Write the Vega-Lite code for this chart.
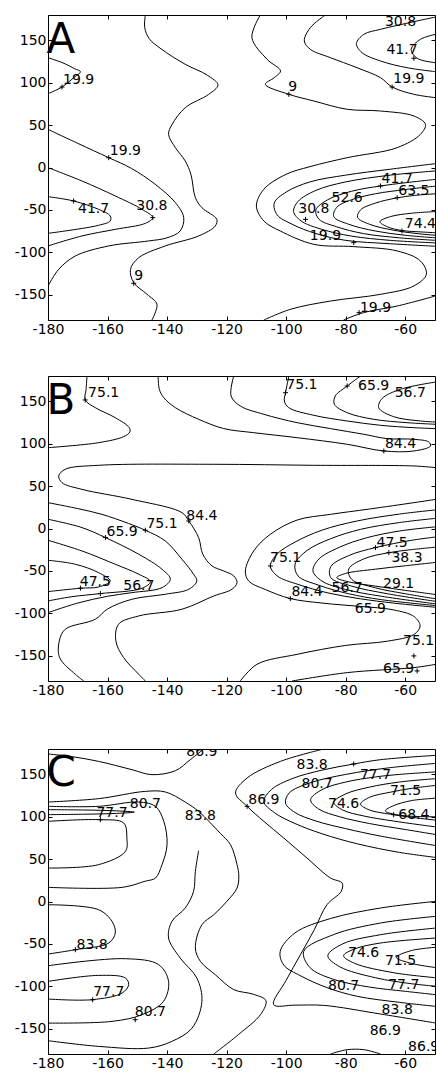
{
"$schema": "https://vega.github.io/schema/vega-lite/v6.json",
"padding": {"left": 13, "top": 14, "right": 0, "bottom": 0},
"background": "white",
"config": {
 "view": {"stroke": "black", "strokeWidth": 1},
 "axis": {"tickSize": -4, "tickColor": "black", "tickWidth": 1, "labelFont": "DejaVu Sans", "labelFontSize": 14, "labelColor": "black", "labelPadding": 6, "domain": false, "grid": false, "labelOverlap": false, "labelFlush": false}
},
"datasets": {
"lA": [
{"c":"a1","x":-180,"y":129.6},{"c":"a1","x":-175,"y":123.5},{"c":"a1","x":-171,"y":116.5},{"c":"a1","x":-169.1,"y":113.1},{"c":"a1","x":-171.5,"y":105.5},{"c":"a1","x":-175.3,"y":95},{"c":"a1","x":-180,"y":87.1},
{"c":"a2","x":-180,"y":45},{"c":"a2","x":-170,"y":28.5},{"c":"a2","x":-159.6,"y":11.6},{"c":"a2","x":-152,"y":-1},{"c":"a2","x":-144,"y":-19.8},{"c":"a2","x":-137.2,"y":-41.5},{"c":"a2","x":-134.4,"y":-59.2},{"c":"a2","x":-135.6,"y":-74.9},{"c":"a2","x":-140,"y":-83},{"c":"a2","x":-146.2,"y":-86.7},{"c":"a2","x":-159.6,"y":-92.6},{"c":"a2","x":-170.8,"y":-104.4},{"c":"a2","x":-176.4,"y":-120.2},{"c":"a2","x":-180,"y":-139.8},
{"c":"a3","x":-180,"y":-0.2},{"c":"a3","x":-168.6,"y":-15.9},{"c":"a3","x":-157.4,"y":-33.6},{"c":"a3","x":-148.4,"y":-49.4},{"c":"a3","x":-144.8,"y":-59.2},{"c":"a3","x":-147.3,"y":-65.9},{"c":"a3","x":-157.4,"y":-73},{"c":"a3","x":-168.6,"y":-80.8},{"c":"a3","x":-180,"y":-92.6},
{"c":"a4","x":-180,"y":-34.4},{"c":"a4","x":-171.4,"y":-39.5},{"c":"a4","x":-163,"y":-49.4},{"c":"a4","x":-159.1,"y":-57.2},{"c":"a4","x":-159.1,"y":-63.1},{"c":"a4","x":-163,"y":-68.2},{"c":"a4","x":-174.2,"y":-74.9},{"c":"a4","x":-180,"y":-77.7},
{"c":"a5","x":-147.3,"y":180},{"c":"a5","x":-147.5,"y":165},{"c":"a5","x":-146,"y":152},{"c":"a5","x":-142,"y":140},{"c":"a5","x":-133.9,"y":121.8},{"c":"a5","x":-126.5,"y":109},{"c":"a5","x":-122.9,"y":97.4},{"c":"a5","x":-126,"y":86.4},{"c":"a5","x":-133.9,"y":70.6},{"c":"a5","x":-138.3,"y":51},{"c":"a5","x":-139.5,"y":39.1},{"c":"a5","x":-137.2,"y":23.4},{"c":"a5","x":-133.9,"y":7.7},{"c":"a5","x":-132,"y":-8},{"c":"a5","x":-130.5,"y":-35.6},{"c":"a5","x":-128.3,"y":-47.4},{"c":"a5","x":-123.3,"y":-61.2},{"c":"a5","x":-123.8,"y":-69},{"c":"a5","x":-129.4,"y":-80.8},{"c":"a5","x":-140.6,"y":-92.6},{"c":"a5","x":-149.5,"y":-106.4},{"c":"a5","x":-152.3,"y":-120.2},{"c":"a5","x":-151.2,"y":-135.9},{"c":"a5","x":-146.7,"y":-149.7},{"c":"a5","x":-143.4,"y":-161.5},{"c":"a5","x":-145.1,"y":-180},
{"c":"a6","x":-108.7,"y":180},{"c":"a6","x":-111.5,"y":153.2},{"c":"a6","x":-106.4,"y":127.7},{"c":"a6","x":-101.9,"y":113.9},{"c":"a6","x":-104,"y":106},{"c":"a6","x":-107,"y":98.2},{"c":"a6","x":-99.1,"y":86.4},{"c":"a6","x":-90.7,"y":78.5},{"c":"a6","x":-79.5,"y":68.7},{"c":"a6","x":-68.3,"y":66.7},{"c":"a6","x":-57.1,"y":60.8},{"c":"a6","x":-53.2,"y":50.9},{"c":"a6","x":-54.9,"y":39.1},{"c":"a6","x":-62.7,"y":23.4},{"c":"a6","x":-79.5,"y":11.6},{"c":"a6","x":-92,"y":1},{"c":"a6","x":-100,"y":-8},{"c":"a6","x":-107.5,"y":-25.7},{"c":"a6","x":-110,"y":-45.4},{"c":"a6","x":-107.5,"y":-63.1},{"c":"a6","x":-102,"y":-74.9},{"c":"a6","x":-90.7,"y":-90.7},{"c":"a6","x":-77.3,"y":-93.4},{"c":"a6","x":-62.7,"y":-98.5},{"c":"a6","x":-54.9,"y":-110.3},{"c":"a6","x":-52.9,"y":-126.1},{"c":"a6","x":-57.1,"y":-139.8},{"c":"a6","x":-68.3,"y":-149.7},{"c":"a6","x":-85.1,"y":-157.6},{"c":"a6","x":-98.6,"y":-167.4},{"c":"a6","x":-107.5,"y":-180},
{"c":"a7","x":-49.8,"y":177.6},{"c":"a7","x":-57.1,"y":172.1},{"c":"a7","x":-68.3,"y":163.1},{"c":"a7","x":-73.9,"y":157.2},{"c":"a7","x":-76.4,"y":146.2},{"c":"a7","x":-74.5,"y":135.5},{"c":"a7","x":-68.3,"y":125.7},{"c":"a7","x":-59.4,"y":117.8},{"c":"a7","x":-49.8,"y":113.1},
{"c":"a8","x":-49.8,"y":157.2},{"c":"a8","x":-54.9,"y":151.3},{"c":"a8","x":-58,"y":139.5},{"c":"a8","x":-56,"y":128.9},{"c":"a8","x":-49.8,"y":123.7},
{"c":"a9","x":-86.8,"y":180},{"c":"a9","x":-91.9,"y":165},{"c":"a9","x":-93.9,"y":149.3},{"c":"a9","x":-91.9,"y":139.5},{"c":"a9","x":-85.1,"y":129.6},{"c":"a9","x":-76.2,"y":117.8},{"c":"a9","x":-68.3,"y":106},{"c":"a9","x":-64.4,"y":95},{"c":"a9","x":-57.1,"y":86.4},{"c":"a9","x":-49.7,"y":82.4},
{"c":"a10","x":-80.7,"y":-180},{"c":"a10","x":-74,"y":-171.3},{"c":"a10","x":-62.7,"y":-163.5},{"c":"a10","x":-49.8,"y":-151.6},
{"c":"a11","x":-49.7,"y":4.6},{"c":"a11","x":-65,"y":-2},{"c":"a11","x":-80,"y":-9},{"c":"a11","x":-92,"y":-17},{"c":"a11","x":-100,"y":-29},{"c":"a11","x":-104,"y":-42},{"c":"a11","x":-103,"y":-56},{"c":"a11","x":-98,"y":-67},{"c":"a11","x":-90,"y":-78},{"c":"a11","x":-80,"y":-86},{"c":"a11","x":-65,"y":-90},{"c":"a11","x":-49.7,"y":-93},
{"c":"a12","x":-49.7,"y":-4},{"c":"a12","x":-65,"y":-9},{"c":"a12","x":-80,"y":-17},{"c":"a12","x":-90,"y":-27},{"c":"a12","x":-96,"y":-40},{"c":"a12","x":-97.5,"y":-52},{"c":"a12","x":-95,"y":-63},{"c":"a12","x":-88,"y":-73},{"c":"a12","x":-78,"y":-81},{"c":"a12","x":-65,"y":-86},{"c":"a12","x":-49.7,"y":-89},
{"c":"a13","x":-49.7,"y":-14},{"c":"a13","x":-60,"y":-18},{"c":"a13","x":-68.3,"y":-21.8},{"c":"a13","x":-78,"y":-28},{"c":"a13","x":-86,"y":-38},{"c":"a13","x":-90,"y":-50},{"c":"a13","x":-89,"y":-61},{"c":"a13","x":-83,"y":-70},{"c":"a13","x":-74,"y":-78},{"c":"a13","x":-62,"y":-83},{"c":"a13","x":-49.7,"y":-86},
{"c":"a14","x":-49.7,"y":-22},{"c":"a14","x":-60,"y":-26},{"c":"a14","x":-70,"y":-31},{"c":"a14","x":-78,"y":-38},{"c":"a14","x":-83,"y":-47},{"c":"a14","x":-84,"y":-58},{"c":"a14","x":-79,"y":-67},{"c":"a14","x":-70,"y":-75},{"c":"a14","x":-60,"y":-80},{"c":"a14","x":-49.7,"y":-83},
{"c":"a15","x":-49.7,"y":-31},{"c":"a15","x":-57,"y":-33},{"c":"a15","x":-63,"y":-36},{"c":"a15","x":-70,"y":-42},{"c":"a15","x":-75,"y":-50},{"c":"a15","x":-76,"y":-59},{"c":"a15","x":-72,"y":-67},{"c":"a15","x":-64,"y":-74},{"c":"a15","x":-56,"y":-78},{"c":"a15","x":-49.7,"y":-80},
{"c":"a16","x":-49.7,"y":-52},{"c":"a16","x":-58,"y":-54},{"c":"a16","x":-65,"y":-58},{"c":"a16","x":-68.5,"y":-64},{"c":"a16","x":-66,"y":-70},{"c":"a16","x":-61,"y":-74.5},{"c":"a16","x":-55,"y":-76},{"c":"a16","x":-49.7,"y":-77}
],
"tA": [
{"x":-169.7,"y":102.9,"t":"19.9"},{"x":-154,"y":19.5,"t":"19.9"},{"x":-164.7,"y":-49.4,"t":"41.7"},{"x":-145.1,"y":-45.4,"t":"30.8"},{"x":-149.5,"y":-128,"t":"9"},{"x":-97.8,"y":95,"t":"9"},{"x":-61.6,"y":172.1,"t":"30.8"},{"x":-61.1,"y":138.3,"t":"41.7"},{"x":-58.8,"y":104.1,"t":"19.9"},{"x":-62.7,"y":-13.2,"t":"41.7"},{"x":-57.1,"y":-27.7,"t":"63.5"},{"x":-79.5,"y":-35.6,"t":"52.6"},{"x":-90.7,"y":-48.6,"t":"30.8"},{"x":-54.9,"y":-67.1,"t":"74.4"},{"x":-86.8,"y":-80.8,"t":"19.9"},{"x":-70,"y":-165.4,"t":"19.9"}
],
"mA": [
{"x":-175.3,"y":95},{"x":-159.6,"y":11.6},{"x":-171.4,"y":-39.5},{"x":-144.8,"y":-59.2},{"x":-151.2,"y":-136.7},{"x":-99.1,"y":86.4},{"x":-64.4,"y":95},{"x":-57.1,"y":128.9},{"x":-68.3,"y":-21.8},{"x":-62.7,"y":-35.6},{"x":-93.5,"y":-61.2},{"x":-61.1,"y":-74.9},{"x":-77.3,"y":-88.7},{"x":-75.5,"y":-171.3}
],
"lB": [
{"c":"b1","x":-166.9,"y":180},{"c":"b1","x":-167.2,"y":164.3},{"c":"b1","x":-167.5,"y":151.7},{"c":"b1","x":-164.1,"y":142.6},{"c":"b1","x":-157.4,"y":130.8},{"c":"b1","x":-152.7,"y":119},{"c":"b1","x":-152.5,"y":113.9},{"c":"b1","x":-154.6,"y":108.4},{"c":"b1","x":-163,"y":101.3},{"c":"b1","x":-180,"y":95.4},
{"c":"b2","x":-143,"y":180},{"c":"b2","x":-142.6,"y":164.3},{"c":"b2","x":-141.1,"y":154.4},{"c":"b2","x":-137.2,"y":142.6},{"c":"b2","x":-129.4,"y":128.9},{"c":"b2","x":-121,"y":118},{"c":"b2","x":-110.9,"y":113.1},{"c":"b2","x":-96.3,"y":107.2},{"c":"b2","x":-79.5,"y":99.4},{"c":"b2","x":-67.2,"y":91.5},{"c":"b2","x":-57.1,"y":91.5},{"c":"b2","x":-51.5,"y":97.4},{"c":"b2","x":-52.1,"y":102.1},{"c":"b2","x":-57.1,"y":105.3},{"c":"b2","x":-66.1,"y":106.1},{"c":"b2","x":-73.9,"y":111.2},{"c":"b2","x":-85.1,"y":117.9},{"c":"b2","x":-96.3,"y":124.9},{"c":"b2","x":-107.5,"y":134.8},{"c":"b2","x":-115.4,"y":144.6},{"c":"b2","x":-118.5,"y":156.4},{"c":"b2","x":-117.6,"y":180},
{"c":"b3","x":-99.1,"y":180},{"c":"b3","x":-100.2,"y":160.3},{"c":"b3","x":-100.6,"y":150.5},{"c":"b3","x":-99.1,"y":142.6},{"c":"b3","x":-90.7,"y":133.6},{"c":"b3","x":-79.5,"y":126.9},{"c":"b3","x":-68.3,"y":121.8},{"c":"b3","x":-57.1,"y":119},{"c":"b3","x":-49.7,"y":117.9},
{"c":"b4","x":-75,"y":180},{"c":"b4","x":-79.5,"y":168.2},{"c":"b4","x":-83.5,"y":156.4},{"c":"b4","x":-83.8,"y":146.6},{"c":"b4","x":-79.5,"y":136.7},{"c":"b4","x":-70.6,"y":128.9},{"c":"b4","x":-59.4,"y":124.9},{"c":"b4","x":-49.7,"y":123},
{"c":"b5","x":-49.7,"y":172.9},{"c":"b5","x":-61.6,"y":164.3},{"c":"b5","x":-67.8,"y":153.3},{"c":"b5","x":-68.9,"y":142.6},{"c":"b5","x":-63.9,"y":132},{"c":"b5","x":-54.9,"y":126.9},{"c":"b5","x":-49.7,"y":125.7},
{"c":"b6","x":-49.7,"y":71.8},{"c":"b6","x":-57.1,"y":73.8},{"c":"b6","x":-90.7,"y":74.6},{"c":"b6","x":-124.3,"y":75.8},{"c":"b6","x":-163,"y":74.6},{"c":"b6","x":-174.2,"y":69.9},{"c":"b6","x":-176.4,"y":62},{"c":"b6","x":-175.3,"y":54.1},{"c":"b6","x":-168.6,"y":46.2},{"c":"b6","x":-151.8,"y":34.4},{"c":"b6","x":-135,"y":18.7},{"c":"b6","x":-132.7,"y":8.9},{"c":"b6","x":-129.4,"y":-10.7},{"c":"b6","x":-128,"y":-30.4},{"c":"b6","x":-124.9,"y":-44.2},{"c":"b6","x":-121,"y":-50.1},{"c":"b6","x":-117.6,"y":-56},{"c":"b6","x":-116.5,"y":-63.9},{"c":"b6","x":-118.2,"y":-71.7},{"c":"b6","x":-124.3,"y":-79.6},{"c":"b6","x":-135,"y":-95.3},{"c":"b6","x":-149.5,"y":-103.2},{"c":"b6","x":-156.3,"y":-113},{"c":"b6","x":-157.2,"y":-132.7},{"c":"b6","x":-154.6,"y":-152.4},{"c":"b6","x":-149.5,"y":-172.1},{"c":"b6","x":-147.3,"y":-180},
{"c":"b7","x":-180,"y":30.5},{"c":"b7","x":-170,"y":23.5},{"c":"b7","x":-161.9,"y":16.7},{"c":"b7","x":-153,"y":6},{"c":"b7","x":-147.3,"y":-2.1},{"c":"b7","x":-140.6,"y":-14.7},{"c":"b7","x":-135,"y":-36.3},{"c":"b7","x":-131.1,"y":-54},{"c":"b7","x":-130,"y":-61.9},{"c":"b7","x":-132.7,"y":-71.7},{"c":"b7","x":-140.6,"y":-77.6},{"c":"b7","x":-151.8,"y":-83.5},{"c":"b7","x":-160,"y":-95},{"c":"b7","x":-164.1,"y":-107.1},{"c":"b7","x":-174.2,"y":-118.9},{"c":"b7","x":-176.2,"y":-132.7},{"c":"b7","x":-176.1,"y":-152.4},{"c":"b7","x":-170.8,"y":-172.1},{"c":"b7","x":-168,"y":-180},
{"c":"b8","x":-180,"y":10.9},{"c":"b8","x":-168.6,"y":1.1},{"c":"b8","x":-160.7,"y":-10.7},{"c":"b8","x":-149.5,"y":-30.4},{"c":"b8","x":-141.7,"y":-48.1},{"c":"b8","x":-138.9,"y":-59.9},{"c":"b8","x":-141.7,"y":-69.8},{"c":"b8","x":-151.8,"y":-75.7},{"c":"b8","x":-160,"y":-80},{"c":"b8","x":-170,"y":-88},{"c":"b8","x":-180,"y":-99.3},
{"c":"b9","x":-180,"y":-13.9},{"c":"b9","x":-168.6,"y":-26.5},{"c":"b9","x":-157.4,"y":-42.2},{"c":"b9","x":-149.5,"y":-54},{"c":"b9","x":-145.6,"y":-62.7},{"c":"b9","x":-148.4,"y":-70.5},{"c":"b9","x":-162.4,"y":-76.8},{"c":"b9","x":-172,"y":-80.5},{"c":"b9","x":-180,"y":-85.5},
{"c":"b10","x":-180,"y":-37.5},{"c":"b10","x":-170.8,"y":-42.2},{"c":"b10","x":-163,"y":-52.1},{"c":"b10","x":-159.1,"y":-61.9},{"c":"b10","x":-163,"y":-69},{"c":"b10","x":-169.1,"y":-70.5},{"c":"b10","x":-180,"y":-74.5},
{"c":"b11","x":-49.7,"y":34.4},{"c":"b11","x":-57.1,"y":30.5},{"c":"b11","x":-72,"y":23},{"c":"b11","x":-85.1,"y":16.7},{"c":"b11","x":-96.3,"y":10},{"c":"b11","x":-105.3,"y":-6.8},{"c":"b11","x":-110.9,"y":-26.5},{"c":"b11","x":-113.7,"y":-50.1},{"c":"b11","x":-112.6,"y":-61.9},{"c":"b11","x":-107,"y":-72},{"c":"b11","x":-98.6,"y":-82.7},{"c":"b11","x":-88,"y":-88},{"c":"b11","x":-75,"y":-92},{"c":"b11","x":-64,"y":-96},{"c":"b11","x":-57,"y":-104},{"c":"b11","x":-55,"y":-115},{"c":"b11","x":-57,"y":-125},{"c":"b11","x":-66,"y":-133},{"c":"b11","x":-80,"y":-138},{"c":"b11","x":-96.3,"y":-148.5},{"c":"b11","x":-109.8,"y":-160.3},{"c":"b11","x":-115.4,"y":-180},
{"c":"b12","x":-49.7,"y":22},{"c":"b12","x":-62,"y":17},{"c":"b12","x":-76,"y":9},{"c":"b12","x":-88,"y":-2},{"c":"b12","x":-97,"y":-16},{"c":"b12","x":-103,"y":-30},{"c":"b12","x":-105.3,"y":-44.2},{"c":"b12","x":-103,"y":-56},{"c":"b12","x":-96,"y":-66},{"c":"b12","x":-86,"y":-76},{"c":"b12","x":-75,"y":-83},{"c":"b12","x":-64,"y":-88},{"c":"b12","x":-49.7,"y":-93},
{"c":"b13","x":-49.7,"y":12},{"c":"b13","x":-62,"y":7},{"c":"b13","x":-75,"y":-1},{"c":"b13","x":-85,"y":-12},{"c":"b13","x":-93,"y":-26},{"c":"b13","x":-97,"y":-42},{"c":"b13","x":-96,"y":-56},{"c":"b13","x":-89,"y":-67},{"c":"b13","x":-79,"y":-77},{"c":"b13","x":-68,"y":-84},{"c":"b13","x":-49.7,"y":-91},
{"c":"b14","x":-49.7,"y":2},{"c":"b14","x":-62,"y":-3},{"c":"b14","x":-73,"y":-11},{"c":"b14","x":-82,"y":-22},{"c":"b14","x":-89,"y":-36},{"c":"b14","x":-91,"y":-50},{"c":"b14","x":-88,"y":-62},{"c":"b14","x":-80,"y":-72},{"c":"b14","x":-68,"y":-80},{"c":"b14","x":-49.7,"y":-89},
{"c":"b15","x":-49.7,"y":-10},{"c":"b15","x":-58,"y":-14},{"c":"b15","x":-70,"y":-22.5},{"c":"b15","x":-79,"y":-32},{"c":"b15","x":-85,"y":-45},{"c":"b15","x":-85,"y":-58},{"c":"b15","x":-78,"y":-68},{"c":"b15","x":-66,"y":-77},{"c":"b15","x":-49.7,"y":-86},
{"c":"b16","x":-49.7,"y":-22},{"c":"b16","x":-58,"y":-25},{"c":"b16","x":-65.5,"y":-28.5},{"c":"b16","x":-74,"y":-36},{"c":"b16","x":-79,"y":-48},{"c":"b16","x":-78,"y":-60},{"c":"b16","x":-70,"y":-70},{"c":"b16","x":-60,"y":-77},{"c":"b16","x":-49.7,"y":-83},
{"c":"b17","x":-49.7,"y":-40},{"c":"b17","x":-60,"y":-44},{"c":"b17","x":-70,"y":-48},{"c":"b17","x":-80,"y":-53},{"c":"b17","x":-83,"y":-58},{"c":"b17","x":-79,"y":-63},{"c":"b17","x":-70,"y":-68},{"c":"b17","x":-60,"y":-73},{"c":"b17","x":-49.7,"y":-78},
{"c":"b19","x":-98,"y":-180},{"c":"b19","x":-79.5,"y":-170.1},{"c":"b19","x":-57.1,"y":-164.2},{"c":"b19","x":-49.7,"y":-160.3}
],
"tB": [
{"x":-161.3,"y":160.3,"t":"75.1"},{"x":-94.7,"y":169,"t":"75.1"},{"x":-70.6,"y":168.2,"t":"65.9"},{"x":-58.3,"y":160.3,"t":"56.7"},{"x":-61.6,"y":99.4,"t":"84.4"},{"x":-128.3,"y":14.8,"t":"84.4"},{"x":-141.7,"y":5,"t":"75.1"},{"x":-155.1,"y":-3.7,"t":"65.9"},{"x":-164.1,"y":-62.7,"t":"47.5"},{"x":-149.5,"y":-67.8,"t":"56.7"},{"x":-64.4,"y":-16.6,"t":"47.5"},{"x":-59.4,"y":-34.4,"t":"38.3"},{"x":-62.2,"y":-65.8,"t":"29.1"},{"x":-79.5,"y":-69.8,"t":"56.7"},{"x":-93,"y":-74.5,"t":"84.4"},{"x":-100.2,"y":-34.4,"t":"75.1"},{"x":-71.7,"y":-95.3,"t":"65.9"},{"x":-55.5,"y":-132.7,"t":"75.1"},{"x":-62.2,"y":-166.2,"t":"65.9"}
],
"mB": [
{"x":-167.5,"y":151.7},{"x":-100.2,"y":160.3},{"x":-79.5,"y":168.2},{"x":-67.2,"y":91.5},{"x":-132.7,"y":8.9},{"x":-147.3,"y":-2.1},{"x":-160.7,"y":-10.7},{"x":-169.1,"y":-70.5},{"x":-162.4,"y":-76.8},{"x":-70,"y":-22.5},{"x":-65.5,"y":-28.5},{"x":-105.3,"y":-44.2},{"x":-98.6,"y":-82.7},{"x":-57.1,"y":-150.4},{"x":-56,"y":-168.1}
],
"lC": [
{"c":"c1","x":-180,"y":174.1},{"c":"c1","x":-172,"y":171},{"c":"c1","x":-163,"y":165.4},{"c":"c1","x":-151.8,"y":155.6},{"c":"c1","x":-145.1,"y":149.7},{"c":"c1","x":-137.2,"y":154.4},{"c":"c1","x":-132.2,"y":167.4},{"c":"c1","x":-127.7,"y":180},
{"c":"c2","x":-180,"y":117.4},{"c":"c2","x":-163,"y":121.4},{"c":"c2","x":-147.3,"y":130},{"c":"c2","x":-140.6,"y":129.3},{"c":"c2","x":-133.9,"y":117.4},{"c":"c2","x":-129.4,"y":106.4},{"c":"c2","x":-125.5,"y":93},{"c":"c2","x":-122,"y":80},{"c":"c2","x":-118.7,"y":67.1},{"c":"c2","x":-116.5,"y":43.5},{"c":"c2","x":-115.9,"y":30},{"c":"c2","x":-116.5,"y":15.9},{"c":"c2","x":-119.9,"y":0.2},{"c":"c2","x":-124.3,"y":-15.6},{"c":"c2","x":-128.3,"y":-27.4},{"c":"c2","x":-130.5,"y":-54.9},{"c":"c2","x":-128.8,"y":-70.7},{"c":"c2","x":-123.8,"y":-86.4},{"c":"c2","x":-117.6,"y":-104},{"c":"c2","x":-111,"y":-109.5},{"c":"c2","x":-106.8,"y":-117},{"c":"c2","x":-108.5,"y":-133},{"c":"c2","x":-116,"y":-157},{"c":"c2","x":-124.3,"y":-180},
{"c":"c3","x":-87.4,"y":180},{"c":"c3","x":-101.9,"y":165.4},{"c":"c3","x":-113.1,"y":145.8},{"c":"c3","x":-117,"y":128.1},{"c":"c3","x":-113.1,"y":112.3},{"c":"c3","x":-107.5,"y":94.6},{"c":"c3","x":-100.8,"y":74.9},{"c":"c3","x":-93,"y":51.3},{"c":"c3","x":-85.1,"y":27.7},{"c":"c3","x":-81.2,"y":21.8},{"c":"c3","x":-81.5,"y":12},{"c":"c3","x":-86.3,"y":-3.8},{"c":"c3","x":-90.5,"y":-33},{"c":"c3","x":-95.2,"y":-62.8},{"c":"c3","x":-100,"y":-93},{"c":"c3","x":-104.2,"y":-121.8},{"c":"c3","x":-97,"y":-122.3},{"c":"c3","x":-87.4,"y":-122.6},{"c":"c3","x":-68.3,"y":-132.8},{"c":"c3","x":-49.7,"y":-143.5},
{"c":"c4","x":-180,"y":112.3},{"c":"c4","x":-163,"y":112.3},{"c":"c4","x":-149.5,"y":117.4},{"c":"c4","x":-143.9,"y":112.3},{"c":"c4","x":-141.1,"y":94.6},{"c":"c4","x":-140,"y":67.1},{"c":"c4","x":-141.7,"y":43.5},{"c":"c4","x":-143.9,"y":27.7},{"c":"c4","x":-147.3,"y":24},{"c":"c4","x":-155.1,"y":16.7},{"c":"c4","x":-180,"y":16.7},
{"c":"c5","x":-180,"y":94.6},{"c":"c5","x":-163,"y":96.6},{"c":"c5","x":-154.6,"y":92.7},{"c":"c5","x":-153.5,"y":74.9},{"c":"c5","x":-154,"y":59.2},{"c":"c5","x":-163,"y":43.5},{"c":"c5","x":-180,"y":39.5},
{"c":"c6","x":-180,"y":108.4},{"c":"c6","x":-168,"y":108},{"c":"c6","x":-157,"y":107},{"c":"c6","x":-151,"y":105.5},{"c":"c6","x":-157,"y":104},{"c":"c6","x":-168,"y":103},{"c":"c6","x":-180,"y":102.5},
{"c":"c7","x":-180,"y":-3.8},{"c":"c7","x":-163,"y":-9.7},{"c":"c7","x":-158.5,"y":-23.5},{"c":"c7","x":-157.4,"y":-37.2},{"c":"c7","x":-159.6,"y":-49},{"c":"c7","x":-170.8,"y":-56.9},{"c":"c7","x":-180,"y":-62},
{"c":"c8","x":-180,"y":-75.8},{"c":"c8","x":-154,"y":-67.5},{"c":"c8","x":-142.8,"y":-74.6},{"c":"c8","x":-139.5,"y":-94.3},{"c":"c8","x":-141.2,"y":-117.9},{"c":"c8","x":-148.4,"y":-133.6},{"c":"c8","x":-158.5,"y":-141.5},{"c":"c8","x":-180,"y":-143.5},
{"c":"c9","x":-180,"y":-94.3},{"c":"c9","x":-163,"y":-87.2},{"c":"c9","x":-154,"y":-90.3},{"c":"c9","x":-152.9,"y":-98.2},{"c":"c9","x":-155.1,"y":-108},{"c":"c9","x":-165.2,"y":-115.9},{"c":"c9","x":-180,"y":-115.1},
{"c":"c10","x":-180,"y":-164.3},{"c":"c10","x":-163,"y":-171},{"c":"c10","x":-146.2,"y":-173},{"c":"c10","x":-138.4,"y":-165.1},{"c":"c10","x":-131.6,"y":-149.4},{"c":"c10","x":-128.3,"y":-117.9},{"c":"c10","x":-130,"y":-90.3},{"c":"c10","x":-135.6,"y":-66.7},{"c":"c10","x":-139.5,"y":-43.1},{"c":"c10","x":-138.4,"y":-23.5},{"c":"c10","x":-133.9,"y":-7.7},{"c":"c10","x":-131.1,"y":12},{"c":"c10","x":-130.5,"y":35.6},{"c":"c10","x":-129.4,"y":60},
{"c":"c12","x":-85.1,"y":-180},{"c":"c12","x":-79.5,"y":-174.9},{"c":"c12","x":-73.9,"y":-174.9},{"c":"c12","x":-68.3,"y":-180},
{"c":"c13","x":-49.7,"y":172.5},{"c":"c13","x":-68.3,"y":167.4},{"c":"c13","x":-77.3,"y":162.3},{"c":"c13","x":-88,"y":155},{"c":"c13","x":-98,"y":145},{"c":"c13","x":-105,"y":132},{"c":"c13","x":-107.5,"y":118},{"c":"c13","x":-104,"y":105},{"c":"c13","x":-97,"y":92},{"c":"c13","x":-88,"y":80},{"c":"c13","x":-76,"y":68},{"c":"c13","x":-62,"y":58},{"c":"c13","x":-49.7,"y":52},
{"c":"c14","x":-49.7,"y":163},{"c":"c14","x":-65,"y":158},{"c":"c14","x":-80,"y":150},{"c":"c14","x":-92,"y":140},{"c":"c14","x":-99,"y":128},{"c":"c14","x":-100.2,"y":116},{"c":"c14","x":-97,"y":105},{"c":"c14","x":-90,"y":95},{"c":"c14","x":-80,"y":86},{"c":"c14","x":-68,"y":77},{"c":"c14","x":-49.7,"y":66},
{"c":"c15","x":-49.7,"y":153},{"c":"c15","x":-62,"y":150},{"c":"c15","x":-70,"y":147},{"c":"c15","x":-80,"y":141},{"c":"c15","x":-88,"y":132},{"c":"c15","x":-91.8,"y":120},{"c":"c15","x":-89,"y":109},{"c":"c15","x":-82,"y":100},{"c":"c15","x":-72,"y":92},{"c":"c15","x":-60,"y":85},{"c":"c15","x":-49.7,"y":79},
{"c":"c16","x":-49.7,"y":145},{"c":"c16","x":-62,"y":141},{"c":"c16","x":-72,"y":135},{"c":"c16","x":-80,"y":127},{"c":"c16","x":-84,"y":117},{"c":"c16","x":-81,"y":108},{"c":"c16","x":-74,"y":101},{"c":"c16","x":-64,"y":95},{"c":"c16","x":-49.7,"y":88},
{"c":"c17","x":-49.7,"y":137},{"c":"c17","x":-58,"y":133.5},{"c":"c17","x":-65,"y":129},{"c":"c17","x":-72,"y":123},{"c":"c17","x":-75,"y":115},{"c":"c17","x":-72,"y":108},{"c":"c17","x":-65,"y":103},{"c":"c17","x":-57,"y":99},{"c":"c17","x":-49.7,"y":96},
{"c":"c18","x":-49.7,"y":122},{"c":"c18","x":-58,"y":119},{"c":"c18","x":-64,"y":113},{"c":"c18","x":-66.7,"y":107},{"c":"c18","x":-63,"y":102.5},{"c":"c18","x":-57,"y":100.5},{"c":"c18","x":-49.7,"y":100},
{"c":"c19","x":-49.7,"y":0.2},{"c":"c19","x":-68.3,"y":-7.7},{"c":"c19","x":-85,"y":-20},{"c":"c19","x":-97,"y":-37},{"c":"c19","x":-102,"y":-58.9},{"c":"c19","x":-100.8,"y":-75},{"c":"c19","x":-95,"y":-88},{"c":"c19","x":-86,"y":-102},{"c":"c19","x":-76,"y":-112},{"c":"c19","x":-62,"y":-119},{"c":"c19","x":-49.7,"y":-123.8},
{"c":"c20","x":-49.7,"y":-17.5},{"c":"c20","x":-68.3,"y":-25.4},{"c":"c20","x":-84,"y":-39},{"c":"c20","x":-94.1,"y":-58.9},{"c":"c20","x":-92,"y":-78},{"c":"c20","x":-84,"y":-92},{"c":"c20","x":-72,"y":-101},{"c":"c20","x":-60,"y":-106},{"c":"c20","x":-49.7,"y":-110},
{"c":"c21","x":-49.7,"y":-31.3},{"c":"c21","x":-68.3,"y":-39.2},{"c":"c21","x":-81,"y":-50},{"c":"c21","x":-86,"y":-64},{"c":"c21","x":-82,"y":-77},{"c":"c21","x":-70,"y":-90},{"c":"c21","x":-58,"y":-97},{"c":"c21","x":-49.7,"y":-100},
{"c":"c22","x":-49.7,"y":-43.1},{"c":"c22","x":-68.3,"y":-49},{"c":"c22","x":-77,"y":-56},{"c":"c22","x":-80.7,"y":-64},{"c":"c22","x":-77,"y":-73},{"c":"c22","x":-64,"y":-84},{"c":"c22","x":-49.7,"y":-90},
{"c":"c23","x":-49.7,"y":-54},{"c":"c23","x":-58,"y":-58},{"c":"c23","x":-63,"y":-66},{"c":"c23","x":-58,"y":-73},{"c":"c23","x":-49.7,"y":-78}
],
"tC": [
{"x":-128.3,"y":176,"t":"86.9"},{"x":-158.5,"y":104.5,"t":"77.7"},{"x":-147.3,"y":115.1,"t":"80.7"},{"x":-128.8,"y":100.5,"t":"83.8"},{"x":-91.3,"y":161.5,"t":"83.8"},{"x":-89.6,"y":138.7,"t":"80.7"},{"x":-107.5,"y":120.2,"t":"86.9"},{"x":-70,"y":148.9,"t":"77.7"},{"x":-80.7,"y":115.1,"t":"74.6"},{"x":-59.9,"y":130.8,"t":"71.5"},{"x":-57.1,"y":102.5,"t":"68.4"},{"x":-165.2,"y":-51.8,"t":"83.8"},{"x":-159.6,"y":-106.9,"t":"77.7"},{"x":-145.6,"y":-130.5,"t":"80.7"},{"x":-74,"y":-60.8,"t":"74.6"},{"x":-61.6,"y":-69.9,"t":"71.5"},{"x":-80.7,"y":-100.2,"t":"80.7"},{"x":-60.5,"y":-99,"t":"77.7"},{"x":-62.7,"y":-127.7,"t":"83.8"},{"x":-66.7,"y":-152.5,"t":"86.9"},{"x":-53.8,"y":-172.2,"t":"86.9"}
],
"mC": [
{"x":-162.4,"y":96.6},{"x":-113.1,"y":112.3},{"x":-77.3,"y":162.3},{"x":-63.9,"y":102.5},{"x":-170.8,"y":-56.9},{"x":-165,"y":-116},{"x":-150.7,"y":-139.5}
]
},
"spacing": 38,
"vconcat": [
{
 "width": 387, "height": 305,
 "layer": [
  {"data": {"name": "lA"}, "mark": {"type": "line", "stroke": "black", "strokeWidth": 1, "clip": true, "interpolate": "catmull-rom"},
   "encoding": {
    "x": {"field": "x", "type": "quantitative", "scale": {"domain": [-180, -50], "nice": false, "zero": false}, "axis": {"orient": "bottom", "values": [-180, -160, -140, -120, -100, -80, -60], "labelExpr": "'' + datum.value", "title": null}},
    "y": {"field": "y", "type": "quantitative", "scale": {"domain": [-180, 180], "nice": false, "zero": false}, "axis": {"orient": "left", "values": [-150, -100, -50, 0, 50, 100, 150], "labelExpr": "'' + datum.value", "title": null}},
    "detail": {"field": "c"}, "order": {"value": null}}},
  {"data": {"name": "tA"}, "mark": {"type": "text", "font": "DejaVu Sans", "fontSize": 14, "clip": true, "color": "black"},
   "encoding": {
    "x": {"field": "x", "type": "quantitative", "scale": {"domain": [-180, -50], "nice": false, "zero": false}, "axis": {"orient": "top", "values": [-180, -160, -140, -120, -100, -80, -60], "labels": false, "title": null}},
    "y": {"field": "y", "type": "quantitative", "scale": {"domain": [-180, 180], "nice": false, "zero": false}, "axis": {"orient": "right", "values": [-150, -100, -50, 0, 50, 100, 150], "labels": false, "title": null}},
    "text": {"field": "t"}}},
  {"data": {"name": "mA"}, "mark": {"type": "point", "shape": "M-1,0L1,0M0,-1L0,1", "size": 25, "stroke": "black", "strokeWidth": 1, "filled": false, "opacity": 1, "clip": true},
   "encoding": {"x": {"field": "x", "type": "quantitative", "axis": null}, "y": {"field": "y", "type": "quantitative", "axis": null}}},
  {"data": {"values": [{"x": -180.5, "y": 135, "t": "A"}]}, "mark": {"type": "text", "font": "DejaVu Sans", "fontSize": 42, "align": "left", "baseline": "alphabetic", "color": "black"},
   "encoding": {"x": {"field": "x", "type": "quantitative", "axis": null}, "y": {"field": "y", "type": "quantitative", "axis": null}, "text": {"field": "t"}}}
 ],
 "resolve": {"axis": {"x": "independent", "y": "independent"}}
},
{
 "spacing": 50,
 "vconcat": [
 {
 "width": 387, "height": 305,
 "layer": [
  {"data": {"name": "lB"}, "mark": {"type": "line", "stroke": "black", "strokeWidth": 1, "clip": true, "interpolate": "catmull-rom"},
   "encoding": {
    "x": {"field": "x", "type": "quantitative", "scale": {"domain": [-180, -50], "nice": false, "zero": false}, "axis": {"orient": "bottom", "values": [-180, -160, -140, -120, -100, -80, -60], "labelExpr": "'' + datum.value", "title": null}},
    "y": {"field": "y", "type": "quantitative", "scale": {"domain": [-180, 180], "nice": false, "zero": false}, "axis": {"orient": "left", "values": [-150, -100, -50, 0, 50, 100, 150], "labelExpr": "'' + datum.value", "title": null}},
    "detail": {"field": "c"}, "order": {"value": null}}},
  {"data": {"name": "tB"}, "mark": {"type": "text", "font": "DejaVu Sans", "fontSize": 14, "clip": true, "color": "black"},
   "encoding": {
    "x": {"field": "x", "type": "quantitative", "scale": {"domain": [-180, -50], "nice": false, "zero": false}, "axis": {"orient": "top", "values": [-180, -160, -140, -120, -100, -80, -60], "labels": false, "title": null}},
    "y": {"field": "y", "type": "quantitative", "scale": {"domain": [-180, 180], "nice": false, "zero": false}, "axis": {"orient": "right", "values": [-150, -100, -50, 0, 50, 100, 150], "labels": false, "title": null}},
    "text": {"field": "t"}}},
  {"data": {"name": "mB"}, "mark": {"type": "point", "shape": "M-1,0L1,0M0,-1L0,1", "size": 25, "stroke": "black", "strokeWidth": 1, "filled": false, "opacity": 1, "clip": true},
   "encoding": {"x": {"field": "x", "type": "quantitative", "axis": null}, "y": {"field": "y", "type": "quantitative", "axis": null}}},
  {"data": {"values": [{"x": -180.5, "y": 134.8, "t": "B"}]}, "mark": {"type": "text", "font": "DejaVu Sans", "fontSize": 42, "align": "left", "baseline": "alphabetic", "color": "black"},
   "encoding": {"x": {"field": "x", "type": "quantitative", "axis": null}, "y": {"field": "y", "type": "quantitative", "axis": null}, "text": {"field": "t"}}}
 ],
 "resolve": {"axis": {"x": "independent", "y": "independent"}}
 },
 {
 "width": 387, "height": 305,
 "layer": [
  {"data": {"name": "lC"}, "mark": {"type": "line", "stroke": "black", "strokeWidth": 1, "clip": true, "interpolate": "catmull-rom"},
   "encoding": {
    "x": {"field": "x", "type": "quantitative", "scale": {"domain": [-180, -50], "nice": false, "zero": false}, "axis": {"orient": "bottom", "values": [-180, -160, -140, -120, -100, -80, -60], "labelExpr": "'' + datum.value", "title": null}},
    "y": {"field": "y", "type": "quantitative", "scale": {"domain": [-180, 180], "nice": false, "zero": false}, "axis": {"orient": "left", "values": [-150, -100, -50, 0, 50, 100, 150], "labelExpr": "'' + datum.value", "title": null}},
    "detail": {"field": "c"}, "order": {"value": null}}},
  {"data": {"name": "tC"}, "mark": {"type": "text", "font": "DejaVu Sans", "fontSize": 14, "clip": true, "color": "black"},
   "encoding": {
    "x": {"field": "x", "type": "quantitative", "scale": {"domain": [-180, -50], "nice": false, "zero": false}, "axis": {"orient": "top", "values": [-180, -160, -140, -120, -100, -80, -60], "labels": false, "title": null}},
    "y": {"field": "y", "type": "quantitative", "scale": {"domain": [-180, 180], "nice": false, "zero": false}, "axis": {"orient": "right", "values": [-150, -100, -50, 0, 50, 100, 150], "labels": false, "title": null}},
    "text": {"field": "t"}}},
  {"data": {"name": "mC"}, "mark": {"type": "point", "shape": "M-1,0L1,0M0,-1L0,1", "size": 25, "stroke": "black", "strokeWidth": 1, "filled": false, "opacity": 1, "clip": true},
   "encoding": {"x": {"field": "x", "type": "quantitative", "axis": null}, "y": {"field": "y", "type": "quantitative", "axis": null}}},
  {"data": {"values": [{"x": -180.5, "y": 136, "t": "C"}]}, "mark": {"type": "text", "font": "DejaVu Sans", "fontSize": 42, "align": "left", "baseline": "alphabetic", "color": "black"},
   "encoding": {"x": {"field": "x", "type": "quantitative", "axis": null}, "y": {"field": "y", "type": "quantitative", "axis": null}, "text": {"field": "t"}}}
 ],
 "resolve": {"axis": {"x": "independent", "y": "independent"}}
 }
 ]
}
]
}
